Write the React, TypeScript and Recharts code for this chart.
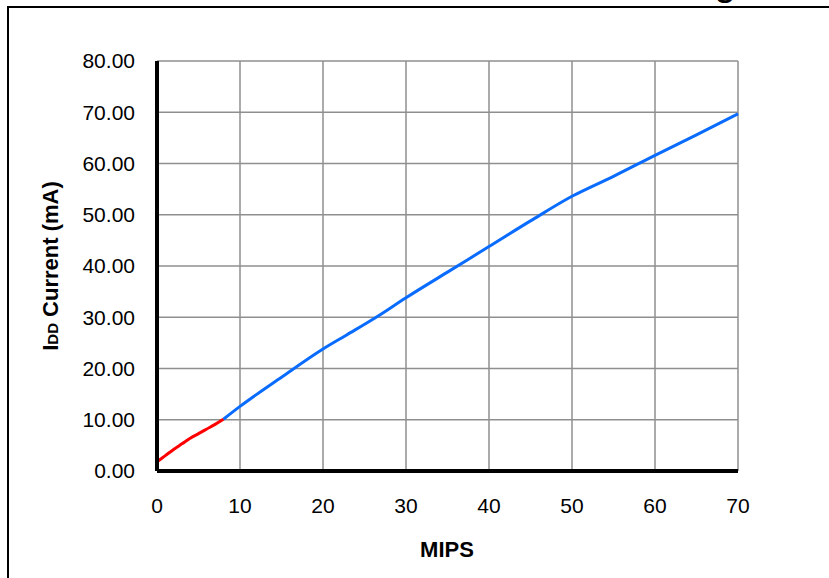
import { LineChart, Line, XAxis, YAxis, CartesianGrid } from "recharts"

// MIPS vs IDD current
const redMips = [0, 1, 2, 3, 4, 5, 6, 7, 8]
const redIdd = [1.8, 3.0, 4.2, 5.3, 6.4, 7.3, 8.2, 9.1, 10.1]

const blueMips = [8, 10, 15, 20, 22.8, 26.5, 30, 35, 40, 45, 50, 55, 60, 65, 70]
const blueIdd = [10.1, 12.6, 18.3, 23.8, 26.5, 30.1, 33.8, 38.8, 43.8, 48.8, 53.6, 57.5, 61.6, 65.6, 69.7]

const xTicks = [0, 10, 20, 30, 40, 50, 60, 70]
const yTicks = [0, 10, 20, 30, 40, 50, 60, 70, 80]

const FONT = "'Liberation Sans', Arial, Helvetica, sans-serif"

const redData = redMips.map((x, i) => ({ x, y: redIdd[i] }))
const blueData = blueMips.map((x, i) => ({ x, y: blueIdd[i] }))

const YLabel = () => (
  <text
    x={58}
    y={266}
    transform="rotate(-90, 58, 266)"
    textAnchor="middle"
    fontFamily={FONT}
    fontWeight="bold"
    fontSize={22}
    fill="#000"
  >
    I<tspan fontSize={15}>DD</tspan> Current (mA)
  </text>
)

const XLabel = () => (
  <text x={447} y={557} textAnchor="middle" fontFamily={FONT} fontWeight="bold" fontSize={22} fill="#000">
    MIPS
  </text>
)

export default function App() {
  return (
    <div style={{ position: "relative", width: 829, height: 578, overflow: "hidden", background: "#fff" }}>
      <style>{`body{margin:0}`}</style>
      {/* frame of the original figure, cut off at right and bottom */}
      <div
        style={{
          position: "absolute",
          left: 7,
          top: 6,
          width: 840,
          height: 600,
          border: "2.5px solid #000",
          boxSizing: "border-box",
        }}
      />
      {/* tail of a cut-off title */}
      <svg width={829} height={20} style={{ position: "absolute", left: 0, top: 0 }}>
        <text x={714} y={-5} fontFamily={FONT} fontSize={40} fill="#000">g</text>
      </svg>
      <div style={{ position: "absolute", left: 0, top: 0 }}>
        <LineChart width={829} height={578} margin={{ top: 61, right: 91, left: 10, bottom: 10 }}>
          <CartesianGrid stroke="#8f8f8f" strokeWidth={1.5} />
          <XAxis
            type="number"
            dataKey="x"
            domain={[0, 70]}
            ticks={xTicks}
            height={97}
            tickLine={false}
            tickSize={0}
            tickMargin={27}
            axisLine={{ stroke: "#000", strokeWidth: 4 }}
            tick={{ fill: "#000", fontSize: 21, fontFamily: FONT }}
            label={<XLabel />}
          />
          <YAxis
            type="number"
            dataKey="y"
            domain={[0, 80]}
            ticks={yTicks}
            width={147}
            tickLine={false}
            tickSize={0}
            tickMargin={22}
            axisLine={{ stroke: "#000", strokeWidth: 4 }}
            tick={{ fill: "#000", fontSize: 21, fontFamily: FONT }}
            tickFormatter={(v: number) => v.toFixed(2)}
            label={<YLabel />}
          />
          <Line
            data={blueData}
            dataKey="y"
            type="monotone"
            stroke="#0a6cff"
            strokeWidth={3}
            dot={false}
            isAnimationActive={false}
          />
          <Line
            data={redData}
            dataKey="y"
            type="monotone"
            stroke="#ff0000"
            strokeWidth={3}
            dot={false}
            isAnimationActive={false}
          />
        </LineChart>
      </div>
    </div>
  )
}
